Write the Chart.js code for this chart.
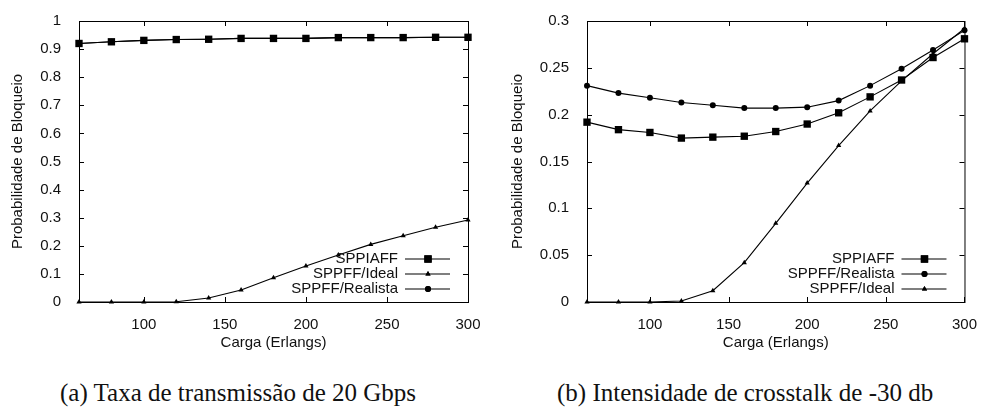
<!DOCTYPE html>
<html>
<head>
<meta charset="utf-8">
<script src="https://cdn.jsdelivr.net/npm/chart.js@4"></script>
<style>
  body { margin: 0; background: #fff; width: 983px; height: 415px; position: relative; overflow: hidden; }
  .box { position: absolute; top: 0; }
  .cap { position: absolute; top: 378px; font-family: "Liberation Serif", serif; font-size: 25px; line-height: 29px; color: #111; white-space: nowrap; }
</style>
</head>
<body>
<div class="box" style="left:0px"><canvas id="chartA" width="490" height="355"></canvas></div>
<div class="box" style="left:490px"><canvas id="chartB" width="493" height="355"></canvas></div>
<div class="cap" style="left:60px;">(a) Taxa de transmissão de 20 Gbps</div>
<div class="cap" style="left:557px;">(b) Intensidade de crosstalk de -30 db</div>
<script>
var cargas = [60, 80, 100, 120, 140, 160, 180, 200, 220, 240, 260, 280, 300];
var xTicks = [100, 150, 200, 250, 300];

// (a) 20 Gbps
var a_sppiaff  = [0.920, 0.926, 0.931, 0.934, 0.935, 0.938, 0.938, 0.938, 0.941, 0.941, 0.941, 0.942, 0.942];
var a_ideal    = [0, 0, 0, 0.001, 0.014, 0.043, 0.086, 0.128, 0.167, 0.205, 0.236, 0.266, 0.292];
var a_realista = [0.920, 0.926, 0.931, 0.934, 0.935, 0.938, 0.938, 0.938, 0.941, 0.941, 0.941, 0.942, 0.942]; // hidden under SPPIAFF
var a_yTicks = [0, 0.1, 0.2, 0.3, 0.4, 0.5, 0.6, 0.7, 0.8, 0.9, 1];

// (b) crosstalk -30 db
var b_sppiaff  = [0.192, 0.184, 0.181, 0.175, 0.176, 0.177, 0.182, 0.190, 0.202, 0.219, 0.237, 0.261, 0.281];
var b_realista = [0.231, 0.223, 0.218, 0.213, 0.210, 0.207, 0.207, 0.208, 0.215, 0.231, 0.249, 0.269, 0.290];
var b_ideal    = [0, 0, 0, 0.001, 0.012, 0.042, 0.084, 0.127, 0.167, 0.204, 0.236, 0.265, 0.292];
var b_yTicks = [0, 0.05, 0.1, 0.15, 0.2, 0.25, 0.3];

var FONT = "'Liberation Sans', Arial, sans-serif";

function pts(ys) {
  return cargas.map(function (x, i) { return { x: x, y: ys[i] }; });
}

var styles = {
  'SPPIAFF':        { pointStyle: 'rect', pointRadius: 5.2 },
  'SPPFF/Ideal':    { pointStyle: 'triangle', pointRadius: 3 },
  'SPPFF/Realista': { pointStyle: 'circle', pointRadius: 3 }
};

function ds(label, ys) {
  var s = styles[label];
  return {
    label: label,
    data: pts(ys),
    borderColor: '#000',
    backgroundColor: '#000',
    borderWidth: 1.1,
    pointStyle: s.pointStyle,
    pointRadius: s.pointRadius,
    pointBorderWidth: 0,
    pointBackgroundColor: '#000',
    tension: 0,
    clip: false
  };
}

// gnuplot style frame, inward ticks and legend
var gnuplotFrame = {
  id: 'gnuplotFrame',
  afterDraw: function (chart) {
    var ctx = chart.ctx, a = chart.chartArea;
    var xs = chart.scales.x, ys = chart.scales.y;
    var tl = 5;
    ctx.save();
    ctx.strokeStyle = '#000';
    ctx.lineWidth = 1;
    ctx.strokeRect(a.left + 0.5, a.top + 0.5, a.right - a.left, a.bottom - a.top);
    ctx.beginPath();
    xs.ticks.forEach(function (t) {
      var px = Math.round(xs.getPixelForValue(t.value)) + 0.5;
      ctx.moveTo(px, a.bottom); ctx.lineTo(px, a.bottom - tl);
      ctx.moveTo(px, a.top); ctx.lineTo(px, a.top + tl);
    });
    ys.ticks.forEach(function (t) {
      var py = Math.round(ys.getPixelForValue(t.value)) + 0.5;
      ctx.moveTo(a.left, py); ctx.lineTo(a.left + tl, py);
      ctx.moveTo(a.right, py); ctx.lineTo(a.right - tl, py);
    });
    ctx.stroke();

    // legend, bottom right inside the plot
    ctx.font = '15px ' + FONT;
    ctx.textAlign = 'right';
    ctx.textBaseline = 'middle';
    chart.data.datasets.forEach(function (d, i) {
      var y = a.bottom - 43 + i * 15;
      ctx.fillStyle = '#111';
      ctx.fillText(d.label, a.right - 70, y);
      ctx.strokeStyle = '#000';
      ctx.lineWidth = 1.1;
      ctx.beginPath();
      ctx.moveTo(a.right - 63, y);
      ctx.lineTo(a.right - 18, y);
      ctx.stroke();
      ctx.fillStyle = '#000';
      Chart.helpers.drawPoint(ctx, { pointStyle: d.pointStyle, radius: d.pointRadius, rotation: 0, borderWidth: 0 }, a.right - 40, y);
      ctx.fill();
    });
    ctx.restore();
  }
};

function fmt(v) { return String(+v.toFixed(2)); }

function makeChart(id, datasets, ymax, yTicks, yAxisWidth, titlePad, padRight) {
  return new Chart(document.getElementById(id), {
    type: 'line',
    data: { datasets: datasets },
    options: {
      responsive: false,
      devicePixelRatio: 1,
      animation: false,
      layout: { padding: { top: 21, right: padRight, bottom: 0, left: 0 } },
      plugins: { legend: { display: false }, tooltip: { enabled: false } },
      scales: {
        x: {
          type: 'linear', min: 60, max: 300,
          grid: { display: false },
          border: { display: false },
          afterBuildTicks: function (s) { s.ticks = xTicks.map(function (v) { return { value: v }; }); },
          afterFit: function (s) { s.height = 53; },
          ticks: { font: { family: FONT, size: 15 }, color: '#111', padding: 6, maxRotation: 0, callback: fmt },
          title: { display: true, text: 'Carga (Erlangs)', font: { family: FONT, size: 15 }, color: '#111', padding: { top: 0, bottom: 3 } }
        },
        y: {
          type: 'linear', min: 0, max: ymax,
          grid: { display: false },
          border: { display: false },
          afterBuildTicks: function (s) { s.ticks = yTicks.map(function (v) { return { value: v }; }); },
          afterFit: function (s) { s.width = yAxisWidth; },
          ticks: { font: { family: FONT, size: 15 }, color: '#111', padding: 10, callback: fmt },
          title: { display: true, text: 'Probabilidade de Bloqueio', font: { family: FONT, size: 15 }, color: '#111', padding: { top: titlePad, bottom: 0 } }
        }
      }
    },
    plugins: [gnuplotFrame]
  });
}

makeChart('chartA', [
  ds('SPPIAFF', a_sppiaff),
  ds('SPPFF/Ideal', a_ideal),
  ds('SPPFF/Realista', a_realista)
], 1, a_yTicks, 79, 9, 22);

makeChart('chartB', [
  ds('SPPIAFF', b_sppiaff),
  ds('SPPFF/Realista', b_realista),
  ds('SPPFF/Ideal', b_ideal)
], 0.3, b_yTicks, 97, 19, 15);
</script>
</body>
</html>
